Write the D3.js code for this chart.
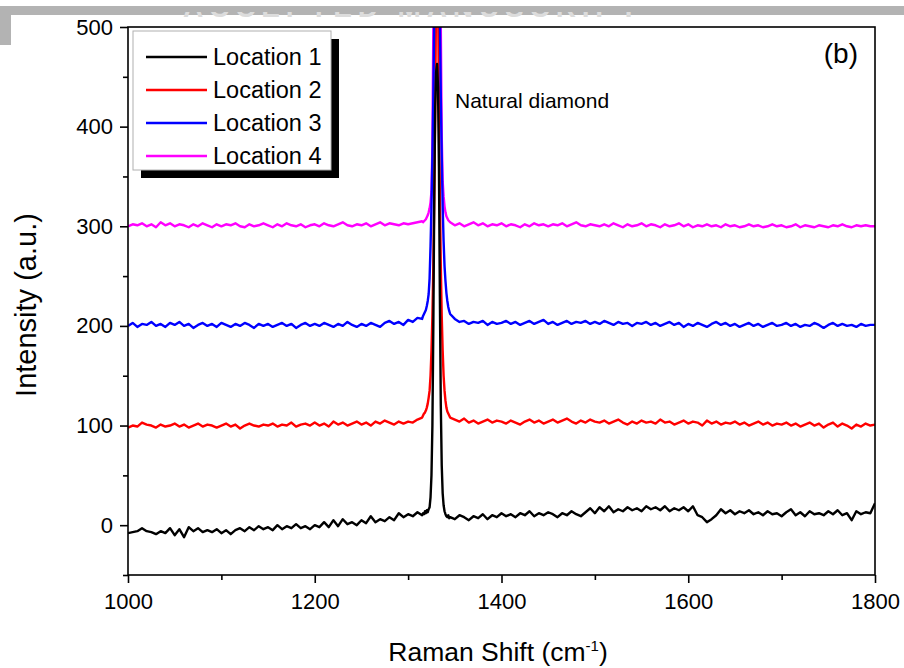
<!DOCTYPE html>
<html>
<head>
<meta charset="utf-8">
<script src="https://cdn.jsdelivr.net/npm/d3@7"></script>
<style>
  html, body { margin: 0; padding: 0; background: #fff; }
  svg { display: block; font-family: "Liberation Sans", Arial, sans-serif; }
</style>
</head>
<body>
<svg id="chart" width="904" height="668"></svg>
<script>
// ---------------- data ----------------
const seriesNames = ["Location 1", "Location 2", "Location 3", "Location 4"];
const seriesColors = ["#000000", "#ff0000", "#0000ff", "#ff00ff"];
const xTicks = [1000, 1200, 1400, 1600, 1800];
const yTicks = [0, 100, 200, 300, 400, 500];
// Raman shift grid: 1000-1315 step 5, 1316-1345 step 1, 1350-1800 step 5
const shiftLeft = d3.range(1000, 1316, 5);
const shiftPeak = d3.range(1316, 1346, 1);
const shiftRight = d3.range(1350, 1801, 5);
const shifts = shiftLeft.concat(shiftPeak, shiftRight);

const loc1 = [
  -8,-7,-6,-3,-6,-7,-9,-6,-8,-3, -10,-4,-12,-2,-6,-3,-7,-5,-7,-4,
  -8,-5,-9,-5,-3,-6,-2,-5,-1,-4, -2,-5,0,-4,-1,-3,1,-3,-1,-4,
  0,-2,3,-2,5,-1,6,1,3,0, 5,2,9,3,6,4,8,5,12,8, 11,9,13,10,
  12,11,14,12,15,13,16,18,28,50,100,200,330,420,455,463,440,360,230,120,60,32,20,14,11,9,8,10,7,8,
  6,10,8,5,9,7,11,6,10,8, 12,9,11,8,12,10,14,9,12,10, 13,11,8,12,10,14,11,9,13,17,
  12,18,14,19,13,16,14,18,15,17, 14,19,16,18,15,19,14,17,15,18, 14,19,10,8,3,6,10,16,12,15,
  11,14,12,15,11,13,10,14,11,12, 9,13,16,10,13,9,14,11,12,10, 14,11,15,10,12,5,14,11,13,12, 22
];
const loc2 = [
  98,100,99,103,101,100,98,101,99,100, 102,99,101,98,100,102,99,101,100,98,
  100,102,99,101,97,100,102,100,99,101, 100,102,99,101,100,103,99,101,102,100,
  103,100,102,99,104,101,103,100,102,104, 101,103,100,104,102,105,103,101,104,102, 104,103,106,108,
  110,112,113,115,118,122,128,135,150,175,210,260,330,420,540,650,540,420,330,260,210,175,150,135,125,118,114,112,110,108,
  106,104,107,103,105,102,104,106,103,105, 104,102,105,103,101,104,106,103,105,102,
  104,106,103,105,107,104,102,105,103,106, 104,103,105,102,104,106,103,101,104,102,
  105,103,104,102,106,103,104,101,103,105, 102,104,103,100,105,102,104,101,103,102,
  104,101,103,100,102,104,101,103,100,102, 101,103,100,102,99,101,103,100,102,98,
  101,103,99,102,100,97,101,99,102,100, 101
];
const loc3 = [
  200,203,199,202,201,204,200,202,199,203, 201,204,200,202,198,201,203,200,202,199,
  203,201,199,202,200,203,201,198,202,200, 202,199,201,203,200,202,198,201,203,200,
  202,200,203,201,199,202,200,204,201,199, 202,200,203,201,199,203,205,202,204,201, 206,204,208,207,
  210,212,214,216,220,225,232,248,280,320,370,430,510,620,720,760,720,620,510,430,370,320,285,260,245,233,225,219,215,212,
  207,204,205,202,204,203,205,201,204,202, 203,205,202,204,201,203,205,202,204,206,
  202,204,201,203,205,202,204,203,205,202, 204,202,205,203,201,204,202,203,200,203,
  202,204,201,203,200,202,204,201,203,199, 202,200,203,201,199,202,204,201,203,200,
  202,199,201,203,200,202,199,201,203,200, 201,203,200,202,199,201,200,203,201,198,
  201,203,200,202,200,201,199,202,200,201, 201
];
const loc4 = [
  300,302,301,303,300,302,299,304,301,303, 300,302,301,299,302,300,303,301,299,302,
  300,302,301,303,300,299,302,300,301,303, 301,299,302,300,303,301,300,302,299,301,
  302,300,303,301,300,302,304,301,300,302, 301,303,300,302,304,301,303,302,301,303, 302,303,304,305,
  304,305,306,307,309,311,314,318,324,335,380,500,620,720,780,800,780,720,620,500,390,345,330,320,314,310,308,306,305,304,
  301,303,300,302,304,301,303,300,302,301, 303,300,302,301,299,302,300,303,301,302,
  300,302,301,303,300,302,304,301,300,302, 301,300,302,300,303,301,299,302,300,301,
  303,300,302,301,299,302,300,301,303,300, 302,299,301,300,302,300,301,299,302,300,
  301,299,300,302,300,301,299,300,302,300, 301,299,300,302,299,301,300,299,301,300,
  299,301,300,302,300,299,301,300,301,300, 300
];
const seriesValues = [loc1, loc2, loc3, loc4];
const drawOrder = [1, 3, 2, 0]; // red at the back, black in front

// ---------------- layout ----------------
const svg = d3.select("#chart");
const pL = 128, pR = 875, pT = 27, pB = 575;
const x = d3.scaleLinear().domain([1000, 1800]).range([pL, pR]);
const y = d3.scaleLinear().domain([-50, 500]).range([pB, pT]);

const defs = svg.append("defs");
defs.append("clipPath").attr("id", "clip")
  .append("rect").attr("x", pL).attr("y", pT).attr("width", pR - pL).attr("height", pB - pT);
defs.append("clipPath").attr("id", "clipHead")
  .append("rect").attr("x", 0).attr("y", 12).attr("width", 904).attr("height", 6);

const line = d3.line().x(d => x(d[0])).y(d => y(d[1]));
const g = svg.append("g").attr("clip-path", "url(#clip)");
drawOrder.forEach(k => {
  const vals = seriesValues[k];
  const pts = shifts.slice(0, vals.length).map((s, i) => [s, vals[i]]);
  g.append("path").datum(pts)
    .attr("d", line)
    .attr("fill", "none")
    .attr("stroke", seriesColors[k])
    .attr("stroke-width", 2.4)
    .attr("stroke-linejoin", "round");
});

// frame
svg.append("rect").attr("x", pL).attr("y", pT).attr("width", pR - pL).attr("height", pB - pT)
  .attr("fill", "none").attr("stroke", "#000").attr("stroke-width", 1.6);

// axes
const xAxis = svg.append("g").attr("transform", `translate(0,${pB})`)
  .call(d3.axisBottom(x).tickValues(xTicks).tickFormat(d3.format("d")).tickSize(8).tickPadding(10));
const xMinor = svg.append("g").attr("transform", `translate(0,${pB})`)
  .call(d3.axisBottom(x).tickValues([1100, 1300, 1500, 1700]).tickFormat("").tickSize(5));
const yAxis = svg.append("g").attr("transform", `translate(${pL},0)`)
  .call(d3.axisLeft(y).tickValues(yTicks).tickFormat(d3.format("d")).tickSize(8).tickPadding(7));
const yMinor = svg.append("g").attr("transform", `translate(${pL},0)`)
  .call(d3.axisLeft(y).tickValues([-50, 50, 150, 250, 350, 450]).tickFormat("").tickSize(5));
[xAxis, xMinor, yAxis, yMinor].forEach(a => {
  a.select(".domain").remove();
  a.selectAll("line").attr("stroke", "#000").attr("stroke-width", 1.6);
  a.selectAll("text").attr("fill", "#000").style("font-size", "22px")
    .style("font-family", '"Liberation Sans", Arial, sans-serif');
});

// axis titles
const xt = svg.append("text").attr("x", 498).attr("y", 661)
  .attr("text-anchor", "middle").style("font-size", "26.5px");
xt.append("tspan").text("Raman Shift (cm");
xt.append("tspan").attr("dy", -10).style("font-size", "15px").text("-1");
xt.append("tspan").attr("dy", 10).text(")");

svg.append("text").attr("transform", "translate(36,305) rotate(-90)")
  .attr("text-anchor", "middle").style("font-size", "29px").text("Intensity (a.u.)");

// annotations
svg.append("text").attr("x", 455).attr("y", 108).style("font-size", "21px").text("Natural diamond");
svg.append("text").attr("x", 858).attr("y", 63).attr("text-anchor", "end").style("font-size", "28px").text("(b)");

// legend
const lg = svg.append("g");
lg.append("rect").attr("x", 141).attr("y", 39).attr("width", 198).attr("height", 139).attr("fill", "#000");
lg.append("rect").attr("x", 133).attr("y", 31).attr("width", 198).attr("height", 139)
  .attr("fill", "#fff").attr("stroke", "#b0b0b0").attr("stroke-width", 1);
seriesNames.forEach((name, i) => {
  const yy = 57 + i * 33;
  lg.append("line").attr("x1", 146).attr("x2", 207).attr("y1", yy).attr("y2", yy)
    .attr("stroke", seriesColors[i]).attr("stroke-width", 2.4);
  lg.append("text").attr("x", 213).attr("y", yy + 8).style("font-size", "23.5px").text(name);
});

// grey header band (scan artefact)
svg.append("rect").attr("x", 0).attr("y", 6).attr("width", 904).attr("height", 9).attr("fill", "#b3b3b3");
svg.append("rect").attr("x", 0).attr("y", 6).attr("width", 11).attr("height", 39).attr("fill", "#b3b3b3");
svg.append("g").attr("clip-path", "url(#clipHead)")
  .append("text").attr("x", 183).attr("y", 17).style("font-size", "28px").style("font-weight", "bold")
  .attr("fill", "#dcdcdc").attr("textLength", 454).text("ACCEPTED MANUSCRIPT");
</script>
</body>
</html>
